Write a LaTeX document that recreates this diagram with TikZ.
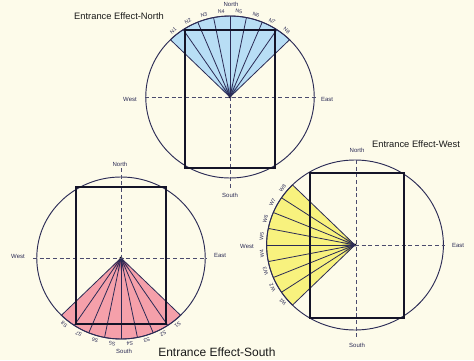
\documentclass[tikz,border=0pt]{standalone}
\usepackage{fontspec}
\setmainfont{Liberation Sans}
\definecolor{bg}{HTML}{FDFBEA}
\definecolor{ink}{HTML}{2B2B55}
\definecolor{rectc}{HTML}{141428}
\definecolor{blueF}{HTML}{B8DEF5}
\definecolor{blueD}{HTML}{10306A}
\definecolor{pinkF}{HTML}{F5A0AA}
\definecolor{pinkD}{HTML}{5A1040}
\definecolor{yelF}{HTML}{F8F27E}
\definecolor{yelD}{HTML}{3A3A10}
\tikzset{
  circ/.style={draw=ink, line width=0.7pt},
  axisline/.style={draw=ink!85, dash pattern=on 3pt off 2pt, line width=0.6pt},
  ray/.style={draw=ink, line width=0.6pt},
  rectbox/.style={draw=rectc, line width=1.5pt},
  flab/.style={font=\fontsize{3.9}{4.5}\selectfont, text=ink, inner sep=0pt},
  clab/.style={font=\fontsize{4.5}{5}\selectfont, text=ink, inner sep=0pt},
  ttl/.style={font=\fontsize{7}{8}\selectfont, text=black!90, inner sep=0pt},
}
% #1 radius, #2 direction, #3 fill, #4 dark, #5 letter
\newcommand{\compassfan}[5]{%
  \fill[#3] (0,0) -- (#2-45:#1) arc[start angle=#2-45, end angle=#2+45, radius=#1] -- cycle;
  \foreach \i in {1,...,10}{%
    \pgfmathsetmacro\rr{14-1.3*\i}%
    \pgfmathtruncatemacro\pp{\i*9}%
    \fill[#4!\pp!#3] (0,0) -- (#2-45:\rr) arc[start angle=#2-45, end angle=#2+45, radius=\rr] -- cycle;
  }
  \fill[black] (0,0) circle[radius=1.5];
  \draw[circ] (0,0) circle[radius=#1];
  \foreach \j in {0,...,8}{\draw[ray] (0,0) -- ({#2-45+\j*11.25}:#1);}
  \draw[ray] (#2-45:#1) arc[start angle=#2-45, end angle=#2+45, radius=#1];
  \foreach \k in {1,...,8}{%
    \pgfmathsetmacro\t{#2+45-(\k-0.5)*11.25}%
    \node[flab, rotate=\t-90] (#5\k) at (\t:#1+5) {#5\k};
  }
}
\begin{document}
\begin{tikzpicture}[x=0.75pt, y=-0.75pt]
\useasboundingbox (0,0) rectangle (474,360);
\fill[bg] (0,0) rectangle (474,360);

% ---------- North ----------
\begin{scope}[shift={(230,97)}, xscale=1.04, y=0.75pt]
  \compassfan{81}{90}{blueF}{blueD}{N}
\end{scope}
\draw[axisline] (145,97) -- (318,97);
\draw[axisline] (230,97) -- (230,188);
\draw[rectbox] (185,30) rectangle (275,168);
\node[clab] (nN) at (231,4.5) {North};
\node[clab] (nW) at (130,99) {West};
\node[clab] (nE) at (327,99) {East};
\node[clab] (nS) at (230,195) {South};
\node[ttl] (tN) at (119,16) {Entrance Effect-North};

% ---------- South ----------
\begin{scope}[shift={(121,258)}, xscale=1.04, y=0.75pt]
  \compassfan{81}{270}{pinkF}{pinkD}{S}
\end{scope}
\draw[axisline] (33,258) -- (207,258);
\draw[axisline] (121,168) -- (121,258);
\draw[rectbox] (76,187) rectangle (166,324);
\node[clab] (sN) at (120,164) {North};
\node[clab] (sW) at (18,256) {West};
\node[clab] (sE) at (220,255) {East};
\node[clab] (sS) at (124,351) {South};
\node[ttl, font=\fontsize{9}{10}\selectfont, anchor=west] (tS) at (158,352) {Entrance Effect-South};

% ---------- West ----------
\begin{scope}[shift={(355,245)}, xscale=1.04, y=0.75pt]
  \compassfan{85}{180}{yelF}{yelD}{W}
\end{scope}
\draw[axisline] (355,245) -- (445,245);
\draw[axisline] (356,160) -- (356,337);
\draw[rectbox] (310,173) rectangle (404,318);
\node[clab] (wN) at (357,150) {North};
\node[clab] (wW) at (247,246) {West};
\node[clab] (wE) at (458,245) {East};
\node[clab] (wS) at (357,345) {South};
\node[ttl] (tW) at (416,144) {Entrance Effect-West};
\end{tikzpicture}
\end{document}
